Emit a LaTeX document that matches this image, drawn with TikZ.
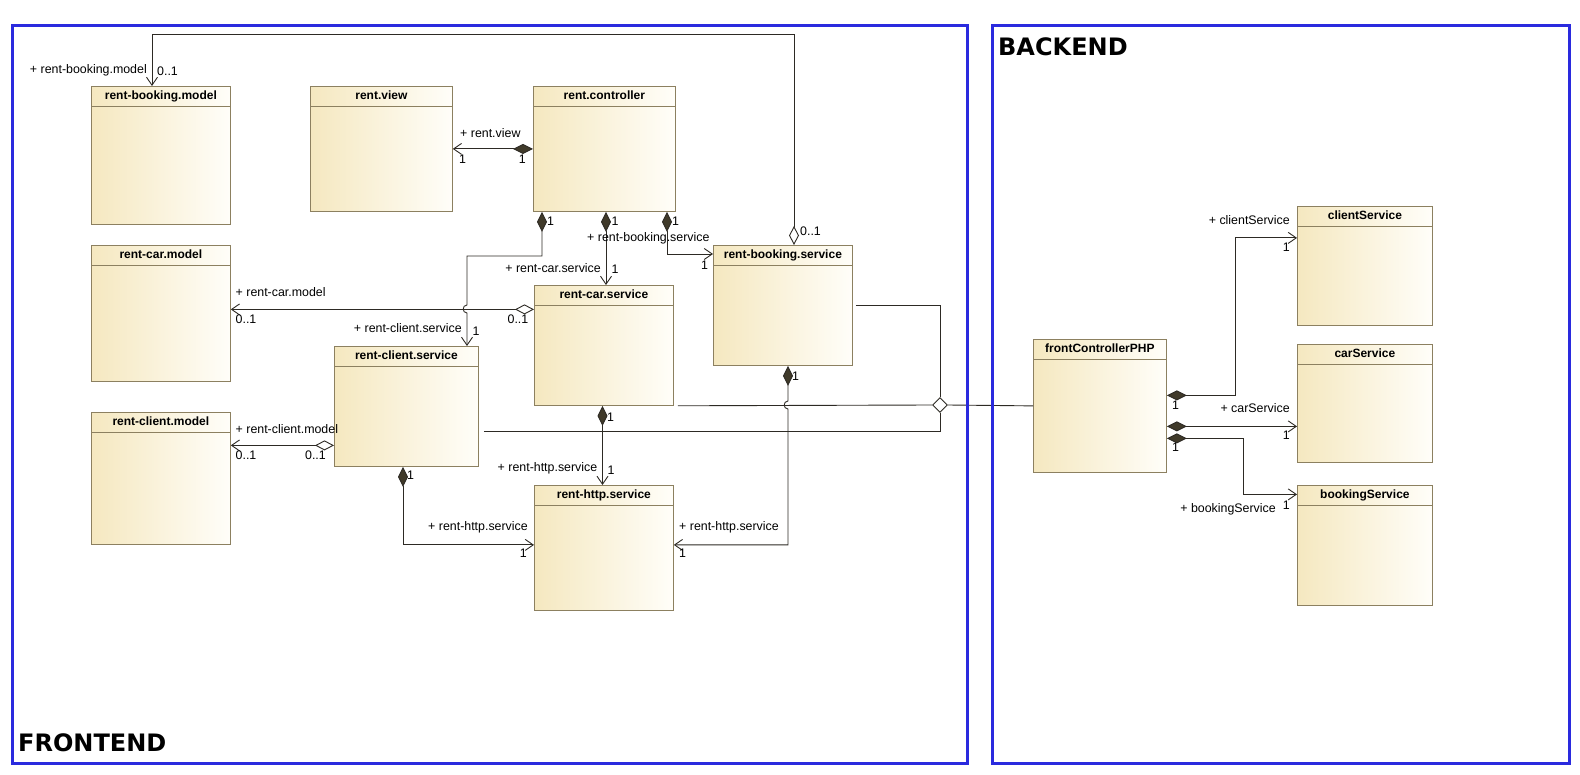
\documentclass[tikz,border=0pt]{standalone}
\usepackage{fontspec}
\setmainfont{Liberation Sans}
\newfontfamily\bigfont{DejaVu Sans}
\usetikzlibrary{arrows.meta,shapes.geometric}
\definecolor{clsleft}{RGB}{245,232,192}
\definecolor{clsright}{RGB}{255,254,249}
\definecolor{clsline}{RGB}{140,128,96}
\definecolor{connclr}{RGB}{45,42,36}
\definecolor{diaclr}{RGB}{64,58,42}
\definecolor{frameblue}{RGB}{42,42,222}
\tikzset{
  classbox/.style={draw=clsline,line width=0.8pt,left color=clsleft,right color=clsright,anchor=north west,inner sep=0pt},
  clstitle/.style={font=\bfseries\fontsize{12}{14}\selectfont,anchor=base,inner sep=0pt},
  role/.style={font=\fontsize{12.4}{14}\selectfont,inner sep=0pt,text height=9pt,text depth=2.5pt},
  conn/.style={draw=connclr,line width=0.9pt},
  comp/.style={conn,{Diamond[length=20pt,width=10pt,fill=diaclr]}-{Straight Barb[length=8pt,width=11pt]}},
  aggr/.style={conn,{Diamond[length=19pt,width=10pt,fill=white]}-{Straight Barb[length=8pt,width=11pt]}},
  aggdia/.style={diamond,draw=connclr,line width=0.9pt,fill=white,inner sep=0pt,minimum width=15pt,minimum height=15pt},
  pkgframe/.style={draw=frameblue,line width=3pt},
  pkgtitle/.style={font=\bigfont\bfseries\fontsize{24}{28}\selectfont,inner sep=0pt,anchor=west}
}
% class box: x, y, width, height, name, title
\newcommand{\clsnode}[6]{\node[classbox,minimum width=#3pt,minimum height=#4pt] (#5) at (#1,#2) {};
  \draw[clsline,line width=0.8pt] ([yshift=-20pt]#5.north west) -- ([yshift=-20pt]#5.north east);
  \node[clstitle] (#5-t) at ([yshift=-13.5pt]#5.north) {#6};}
% role / multiplicity: anchor, name, x, y, text
\newcommand{\rolelbl}[5]{\node[role,anchor=#1] (#2) at (#3,#4) {#5};}

\begin{document}
\begin{tikzpicture}[x=1pt,y=-1pt]
  \useasboundingbox (0,0) rectangle (1580,775);

  % frontend classes
  \clsnode{91}{86}{139}{138}{bmodel}{rent-booking.model}
  \clsnode{310}{86}{142}{125}{view}{rent.view}
  \clsnode{533}{86}{142}{125}{ctrl}{rent.controller}
  \clsnode{91}{245}{139}{136}{cmodel}{rent-car.model}
  \clsnode{534}{285}{139}{120}{carsvc}{rent-car.service}
  \clsnode{713}{245}{139}{120}{booksvc}{rent-booking.service}
  \clsnode{334}{346}{144}{120}{clisvc}{rent-client.service}
  \clsnode{91}{412}{139}{132}{climodel}{rent-client.model}
  \clsnode{534}{485}{139}{125}{http}{rent-http.service}
  % backend classes
  \clsnode{1033}{339}{133}{133}{fc}{frontControllerPHP}
  \clsnode{1297}{206}{135}{119}{clientS}{clientService}
  \clsnode{1297}{344}{135}{118}{carS}{carService}
  \clsnode{1297}{485}{135}{120}{bookS}{bookingService}

  % controller associations
  \draw[comp] (ctrl.west) -- (view.east);
  \rolelbl{west}{r-view}{460}{134}{+ rent.view}
  \rolelbl{west}{m-view}{459}{160}{1}
  \rolelbl{east}{m-ctrl1}{526}{160}{1}

  \draw[comp] ([xshift=9pt]ctrl.south west) |- (467,256) -- (467,305)
    .. controls (462,305) and (462,313) .. (467,313) -- ([xshift=133pt]clisvc.north west);
  \rolelbl{west}{m-ctrl2}{547}{222}{1}
  \rolelbl{east}{r-clisvc}{462}{329}{+ rent-client.service}
  \rolelbl{west}{m-clisvc}{472.5}{332.5}{1}

  \draw[comp] ([xshift=73pt]ctrl.south west) -- ([xshift=72pt]carsvc.north west);
  \rolelbl{west}{m-ctrl3}{611.5}{222}{1}
  \rolelbl{east}{r-carsvc}{601}{269}{+ rent-car.service}
  \rolelbl{west}{m-carsvc}{611.5}{270.5}{1}

  \draw[comp] ([xshift=134pt]ctrl.south west) |- ([yshift=-9pt]booksvc.north west);
  \rolelbl{west}{m-ctrl4}{672}{222}{1}
  \rolelbl{west}{r-booksvc}{587}{238.5}{+ rent-booking.service}
  \rolelbl{west}{m-booksvc}{701}{266}{1}

  % booking service to booking model
  \draw[aggr] ([xshift=81pt]booksvc.north west) |- (152,34) -- ([xshift=61pt]bmodel.north west);
  \rolelbl{east}{r-bmodel}{147}{70}{+ rent-booking.model}
  \rolelbl{west}{m-bmodel}{157}{72.5}{0..1}
  \rolelbl{west}{m-booksvc2}{800}{232.5}{0..1}

  % services to models
  \draw[aggr] ([yshift=36pt]carsvc.west) -- ([yshift=4pt]cmodel.east);
  \rolelbl{west}{r-cmodel}{235.5}{293}{+ rent-car.model}
  \rolelbl{west}{m-cmodel}{235.5}{320.5}{0..1}
  \rolelbl{east}{m-carsvc2}{528.5}{320.5}{0..1}

  \draw[aggr] ([yshift=-39pt]clisvc.west) -- ([yshift=33pt]climodel.east);
  \rolelbl{west}{r-climodel}{235.5}{430}{+ rent-client.model}
  \rolelbl{west}{m-climodel}{235.5}{456.5}{0..1}
  \rolelbl{east}{m-clisvc2}{326}{456.5}{0..1}

  % services to http service
  \draw[comp] ([xshift=68.5pt]carsvc.south west) -- ([xshift=68.5pt]http.north west);
  \rolelbl{west}{m-carsvc3}{607}{418}{1}
  \rolelbl{east}{r-http1}{597.5}{468.5}{+ rent-http.service}
  \rolelbl{west}{m-http1}{607.5}{471.5}{1}

  \draw[comp] ([xshift=69pt]clisvc.south west) |- ([yshift=3pt]http.west);
  \rolelbl{west}{m-clisvc3}{407}{476.5}{1}
  \rolelbl{east}{r-http2}{528}{527}{+ rent-http.service}
  \rolelbl{east}{m-http2}{527}{554}{1}

  \draw[comp] ([xshift=75pt]booksvc.south west) -- (788,401)
    .. controls (783,401) and (783,409) .. (788,409) |- ([yshift=3pt]http.east);
  \rolelbl{west}{m-booksvc3}{792}{377}{1}
  \rolelbl{west}{r-http3}{679}{527}{+ rent-http.service}
  \rolelbl{west}{m-http3}{679}{554}{1}

  % frontend to backend
  \node[aggdia] (agg) at (940,405) {};
  \draw[conn] ([xshift=4pt]carsvc.south east) -- (agg.west);
  \draw[conn] ([xshift=3pt]booksvc.east) -| (agg.north);
  \draw[conn] ([shift={(5pt,-25pt)}]clisvc.east) -| (agg.south);
  \draw[conn] (agg.east) -- (fc.west);

  % backend associations
  \draw[comp] ([yshift=10.5pt]fc.east) -| ([shift={(-62pt,28pt)}]clientS.west) -- ([yshift=28pt]clientS.west);
  \rolelbl{west}{m-fc1}{1172}{406.5}{1}
  \rolelbl{east}{r-clientS}{1290}{221.5}{+ clientService}
  \rolelbl{east}{m-clientS}{1290}{248.5}{1}

  \draw[comp] ([yshift=-20.5pt]fc.east) -- ([yshift=-23pt]carS.west);
  \rolelbl{east}{r-carS}{1290}{409.5}{+ carService}
  \rolelbl{east}{m-carS}{1290}{436.5}{1}

  \draw[comp] ([yshift=-32.5pt]fc.east) -| ([shift={(-54pt,51pt)}]bookS.west) -- ([yshift=51pt]bookS.west);
  \rolelbl{west}{m-fc3}{1172}{448.5}{1}
  \rolelbl{east}{r-bookS}{1276}{509}{+ bookingService}
  \rolelbl{east}{m-bookS}{1290}{506}{1}

  % packages
  \draw[pkgframe] (12,26) rectangle (967,763);
  \draw[pkgframe] (992,26) rectangle (1569,763);
  \node[pkgtitle] (fe) at (18,742.5) {FRONTEND};
  \node[pkgtitle] (be) at (998,47) {BACKEND};
\end{tikzpicture}
\end{document}
